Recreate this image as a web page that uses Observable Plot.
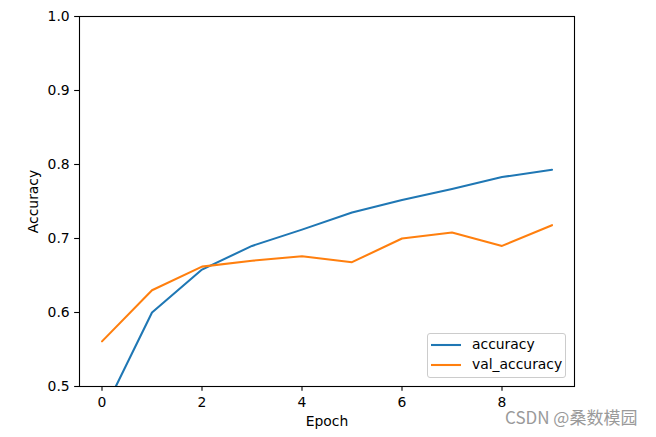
<!DOCTYPE html>
<html>
<head>
<meta charset="utf-8">
<script src="https://cdn.jsdelivr.net/npm/d3@7"></script>
<script src="https://cdn.jsdelivr.net/npm/@observablehq/plot@0.6"></script>
<style>
  html, body { margin: 0; padding: 0; background: white; }
  #wrap { position: relative; width: 656px; height: 437px; overflow: hidden; }
  #legend {
    position: absolute; left: 427px; top: 333px; width: 139px; height: 45px;
    border: 1px solid #cccccc; border-radius: 3px; background: rgba(255,255,255,0.8);
    font-family: "DejaVu Sans"; font-size: 13.9px; color: black; box-sizing: border-box;
  }
  .row { position: absolute; left: 0; height: 20px; line-height: 20px; }
  .row svg { position: absolute; left: 3px; top: 0; }
  .row span { position: absolute; left: 44px; top: -1px; white-space: nowrap; }
  #wm {
    position: absolute; left: 505px; top: 407px; font-family: "Noto Sans CJK SC";
    font-size: 17px; line-height: 20px; color: #9a9a9a; white-space: nowrap;
  }
</style>
</head>
<body>
<div id="wrap"></div>
<script>
const epochs = [0, 1, 2, 3, 4, 5, 6, 7, 8, 9];
const accuracy = [0.462, 0.600, 0.658, 0.690, 0.712, 0.735, 0.752, 0.767, 0.783, 0.793];
const valAccuracy = [0.561, 0.630, 0.662, 0.670, 0.676, 0.668, 0.700, 0.708, 0.690, 0.718];
const xTicks = [0, 2, 4, 6, 8];
const yTicks = [0.5, 0.6, 0.7, 0.8, 0.9, 1.0];
const seriesNames = ["accuracy", "val_accuracy"];
const seriesColors = ["#1f77b4", "#ff7f0e"];

const accData = epochs.map((e, i) => ({epoch: e, value: accuracy[i]}));
const valData = epochs.map((e, i) => ({epoch: e, value: valAccuracy[i]}));

const chart = Plot.plot({
  width: 656,
  height: 437,
  marginLeft: 79,
  marginRight: 82,
  marginTop: 16,
  marginBottom: 51,
  style: {fontFamily: "DejaVu Sans", fontSize: "13.9px", color: "black", background: "white"},
  x: {domain: [-0.45, 9.45]},
  y: {domain: [0.5, 1.0]},
  marks: [
    Plot.lineY(accData, {x: "epoch", y: "value", stroke: seriesColors[0], strokeWidth: 2.08, clip: true}),
    Plot.lineY(valData, {x: "epoch", y: "value", stroke: seriesColors[1], strokeWidth: 2.08, clip: true}),
    Plot.frame({stroke: "black", strokeWidth: 1.1}),
    Plot.axisX({ticks: xTicks, tickSize: 4.86, tickPadding: 5.5, strokeWidth: 1.1, label: null, fontSize: 13.9}),
    Plot.axisY({ticks: yTicks, tickFormat: d3.format(".1f"), tickSize: 4.86, tickPadding: 5, strokeWidth: 1.1, label: null, fontSize: 13.9}),
    Plot.text(["Epoch"], {frameAnchor: "bottom", lineAnchor: "bottom", dy: 39, fontSize: 13.9, fill: "black"}),
    Plot.text(["Accuracy"], {frameAnchor: "left", textAnchor: "middle", lineAnchor: "bottom", rotate: -90, dx: -41.6, fontSize: 13.9, fill: "black"})
  ]
});

const wrap = document.getElementById("wrap");
wrap.appendChild(chart);

const legend = document.createElement("div");
legend.id = "legend";
seriesNames.forEach((name, i) => {
  const row = document.createElement("div");
  row.className = "row";
  row.style.top = (i * 20.3 + 1) + "px";
  row.innerHTML = `<svg width="32" height="20"><line x1="0" x2="30" y1="10" y2="10" stroke="${seriesColors[i]}" stroke-width="2.08"/></svg><span>${name}</span>`;
  legend.appendChild(row);
});
wrap.appendChild(legend);

const wm = document.createElement("div");
wm.id = "wm";
wm.textContent = "CSDN @桑数模园";
wrap.appendChild(wm);
</script>
</body>
</html>
